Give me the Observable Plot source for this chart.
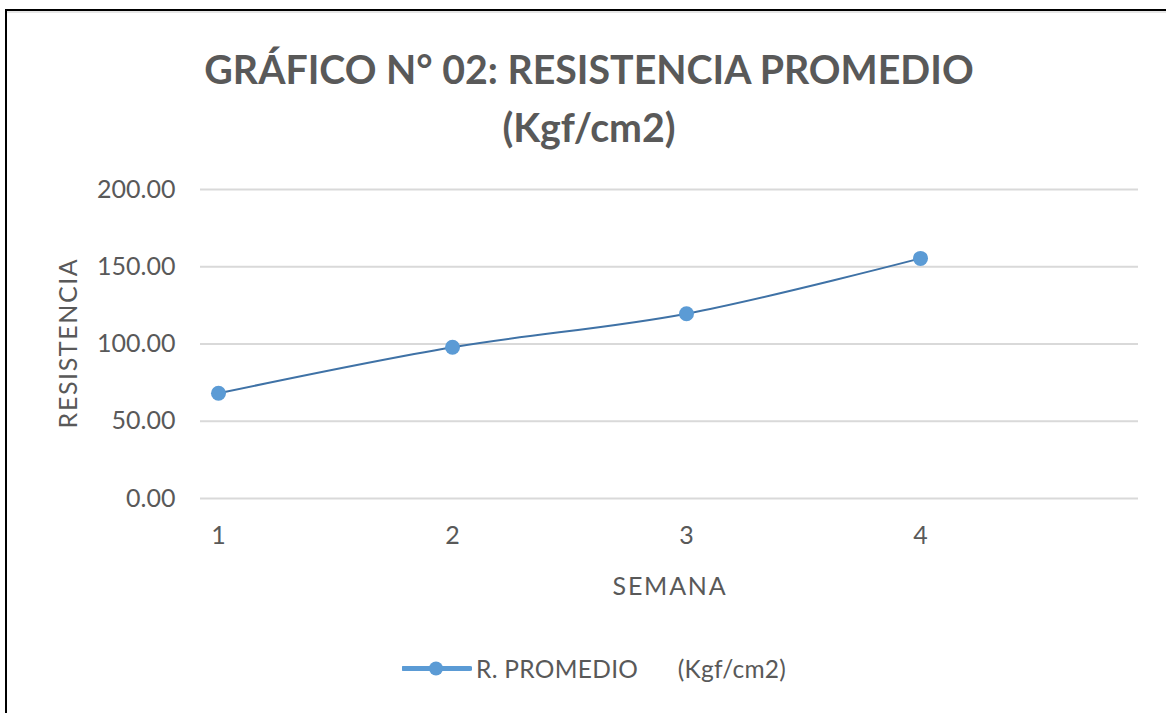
<!DOCTYPE html>
<html>
<head>
<meta charset="utf-8">
<script src="https://cdn.jsdelivr.net/npm/d3@7"></script>
<script src="https://cdn.jsdelivr.net/npm/@observablehq/plot@0.6"></script>
<style>
  html, body { margin: 0; padding: 0; background: #fff; }
  #wrap { position: relative; width: 1166px; height: 713px; overflow: hidden; font-family: Lato, "Open Sans", sans-serif; color: #595959; }
  #wrap svg { position: absolute; left: 0; top: 0; }
  .abs { position: absolute; white-space: pre; }
  #title { left: 0; width: 1178px; top: 40px; text-align: center; font-weight: 700; font-size: 39.3px; line-height: 58px; color: #595959; }
  #ylab { left: 67px; top: 343px; transform: translate(-50%, -50%) rotate(-90deg); font-size: 25px; letter-spacing: 1.6px; }
  #xlab { left: 670px; top: 585px; transform: translate(-50%, -50%); font-size: 25px; letter-spacing: 1.8px; }
  #legend { left: 402px; top: 668px; transform: translateY(-50%); display: flex; align-items: center; font-size: 24.5px; letter-spacing: 0.3px; }
  #border-top { left: 5px; top: 9px; width: 1161px; height: 2px; background: #000; }
  #border-left { left: 5px; top: 9px; width: 2px; height: 704px; background: #000; }
  #grey-top { left: 7px; top: 11px; width: 1159px; height: 2px; background: #e6e6e6; }
</style>
</head>
<body>
<div id="wrap">
  <div id="chart"></div>
  <div class="abs" id="grey-top"></div>
  <div class="abs" id="border-top"></div>
  <div class="abs" id="border-left"></div>
  <div class="abs" id="title">GRÁFICO N° 02: RESISTENCIA PROMEDIO
(Kgf/cm2)</div>
  <div class="abs" id="ylab">RESISTENCIA</div>
  <div class="abs" id="xlab">SEMANA</div>
  <div class="abs" id="legend"><svg width="70" height="20" style="position:static"><line x1="1" y1="10" x2="68" y2="10" stroke="#5b9bd5" stroke-width="5" stroke-linecap="round"/><circle cx="34" cy="10" r="7" fill="#5b9bd5"/></svg><span id="legtext" style="margin-left:4px"></span></div>
</div>
<script>
const semanas = [1, 2, 3, 4];
const resistencia = [68.1, 97.9, 119.6, 155.4];
const yTicks = [0, 50, 100, 150, 200];
const seriesName = "R. PROMEDIO      (Kgf/cm2)";

document.getElementById("legtext").textContent = seriesName;

const data = semanas.map((s, i) => ({semana: s, valor: resistencia[i]}));

const chart = Plot.plot({
  width: 1166,
  height: 713,
  marginLeft: 200,
  marginRight: 28,
  marginTop: 189,
  marginBottom: 215,
  style: {fontFamily: "Lato, 'Open Sans', sans-serif", fontSize: "25px", color: "#595959", background: "transparent"},
  x: {domain: [0.9231, 4.9316], label: null},
  y: {domain: [0, 200], label: null},
  marks: [
    Plot.gridY(yTicks, {stroke: "#d9d9d9", strokeOpacity: 1, strokeWidth: 2}),
    Plot.axisY(yTicks, {tickSize: 0, tickPadding: 25, tickFormat: d => d.toFixed(2), label: null, fill: "#595959", fontSize: 25}),
    Plot.axisX(semanas, {tickSize: 0, tickPadding: 28, tickFormat: d => String(d), label: null, fill: "#595959", fontSize: 25}),
    Plot.line(data, {x: "semana", y: "valor", curve: "catmull-rom", stroke: "#3f72a6", strokeWidth: 2}),
    Plot.dot(data, {x: "semana", y: "valor", r: 7.5, fill: "#5b9bd5", stroke: "none"})
  ]
});
document.getElementById("chart").appendChild(chart);
</script>
</body>
</html>
